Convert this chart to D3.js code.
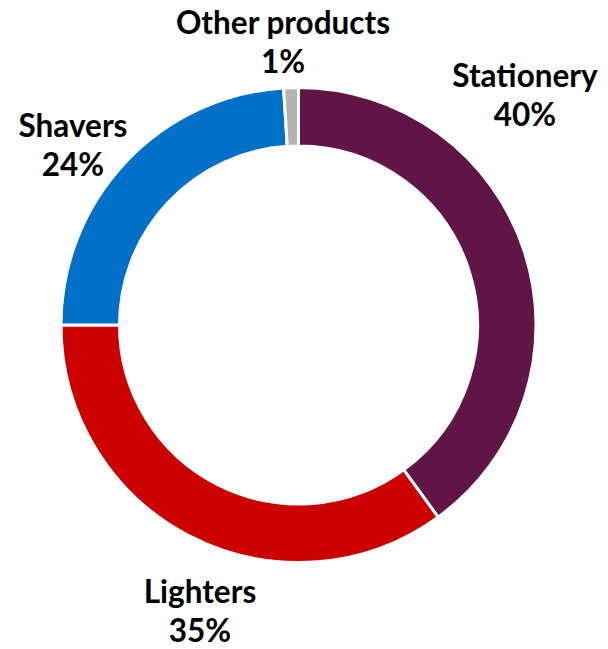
<!DOCTYPE html>
<html>
<head>
<meta charset="utf-8">
<script src="https://cdn.jsdelivr.net/npm/d3@7"></script>
<style>
  html, body { margin: 0; padding: 0; background: #ffffff; }
  svg { display: block; }
  text { font-family: Lato, "Noto Sans", sans-serif; font-weight: 700; fill: #000; }
</style>
</head>
<body>
<svg id="chart" width="608" height="649"></svg>
<script>
// Segment shares of the business (percent)
const categories = ["Stationery", "Lighters", "Shavers", "Other products"];
const shares = [40, 35, 24, 1];
const colors = ["#611446", "#cc0000", "#0070c8", "#b3b3b3"];
// Baseline of the first label line, and its horizontal centre
const labelX = [525, 200, 73, 283];
const labelY = [87, 603, 137, 34];

const W = 608, H = 649;
const cx = 298.5, cy = 325;
const outerR = 237.5, innerR = 179;

const svg = d3.select("#chart");
const data = categories.map((c, i) => ({ name: c, value: shares[i], color: colors[i], lx: labelX[i], ly: labelY[i] }));

const pie = d3.pie().value(d => d.value).sort(null).startAngle(0).endAngle(2 * Math.PI);
const arc = d3.arc().innerRadius(innerR).outerRadius(outerR);

const g = svg.append("g").attr("transform", `translate(${cx},${cy})`);
g.selectAll("path")
  .data(pie(data))
  .join("path")
  .attr("d", arc)
  .attr("fill", d => d.data.color)
  .attr("stroke", "#ffffff")
  .attr("stroke-width", 3)
  .attr("stroke-linejoin", "miter");

const labels = svg.append("g").selectAll("text")
  .data(data)
  .join("text")
  .attr("text-anchor", "middle")
  .attr("font-size", 31.5);
labels.append("tspan").attr("x", d => d.lx).attr("y", d => d.ly).text(d => d.name);
labels.append("tspan").attr("x", d => d.lx).attr("y", d => d.ly + 38.5).text(d => d.value + "%");
</script>
</body>
</html>
